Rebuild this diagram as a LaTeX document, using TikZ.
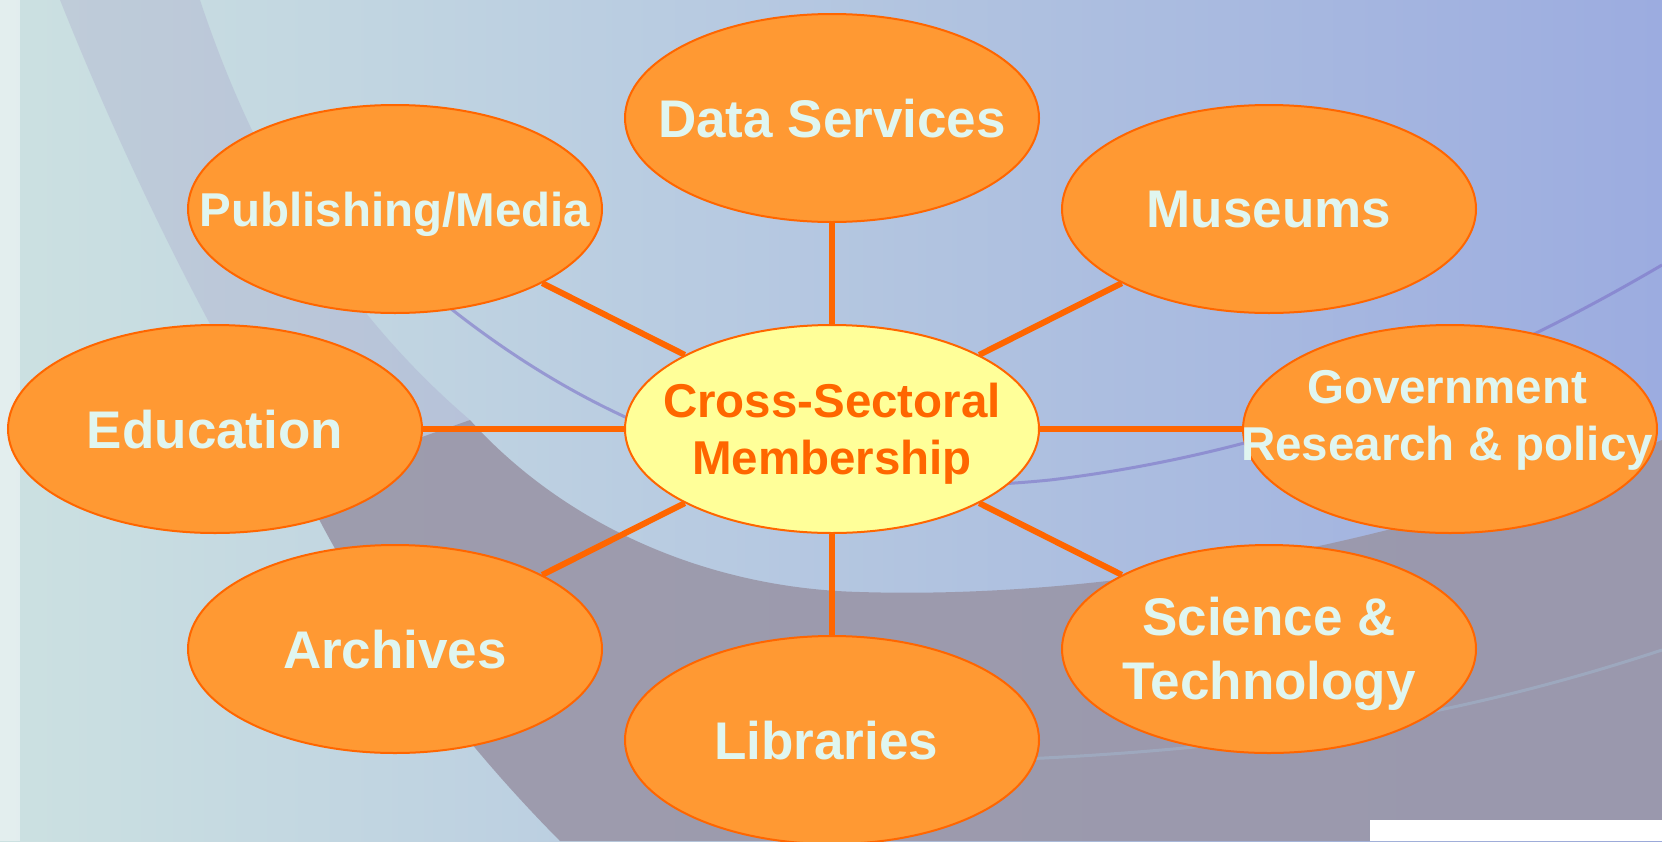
\documentclass[tikz,border=0pt]{standalone}
\usepackage{fontspec}
\setmainfont{Liberation Sans}
\usetikzlibrary{shapes.geometric}
\definecolor{bgL}{RGB}{204,225,225}
\definecolor{bgM}{RGB}{165,198,222}
\definecolor{bgR}{RGB}{156,172,224}
\definecolor{bandC}{RGB}{154,150,168}
\definecolor{streakC}{RGB}{160,150,195}
\definecolor{arcC}{RGB}{125,115,200}
\definecolor{fillOr}{RGB}{255,153,51}
\definecolor{edgeOr}{RGB}{255,102,0}
\definecolor{hubY}{RGB}{255,255,153}
\definecolor{txtC}{RGB}{224,246,240}
\pgfdeclarelayer{bg}
\pgfdeclarelayer{spokes}
\pgfsetlayers{bg,spokes,main}
\begin{document}
\begin{tikzpicture}[x=1pt,y=-1pt,
  outer/.style={ellipse, draw=edgeOr, line width=2pt, fill=fillOr,
    minimum width=414pt, minimum height=208pt, inner sep=0pt},
  hub/.style={outer, fill=hubY},
  lbl/.style={text=txtC, font=\bfseries\fontsize{53}{64}\selectfont,
    align=center, inner sep=0pt},
  lblS/.style={lbl, font=\bfseries\fontsize{47.5}{57}\selectfont},
  spoke/.style={draw=edgeOr, line width=6pt}]
\useasboundingbox (0,0) rectangle (1662,841);
\clip (0,0) rectangle (1662,841);
\begin{pgfonlayer}{bg}
  \shade[left color=bgL, middle color=bgM, right color=bgR] (0,0) rectangle (1662,841);
  % faint streak of the dial rim, top left
  \fill[streakC, opacity=0.25]
    (60,0) .. controls (120,150) and (200,320) .. (300,480)
    -- (470,420) .. controls (330,300) and (250,150) .. (200,0) -- cycle;
  % darker rim of the dial, lower part
  \fill[bandC, opacity=0.9]
    (300,480) .. controls (340,570) and (430,710) .. (560,841)
    -- (1662,841) -- (1662,440)
    .. controls (1420,540) and (1120,600) .. (860,592)
    .. controls (700,588) and (560,520) .. (470,420) -- cycle;
  \draw[arcC, opacity=0.6, line width=3pt]
    (440,300) .. controls (650,470) and (850,500) .. (1050,480)
    .. controls (1300,450) and (1500,360) .. (1662,265);
  \draw[bgM, opacity=0.35, line width=3pt]
    (1662,650) .. controls (1450,720) and (1250,750) .. (1000,760);
  \fill[white, opacity=0.45] (0,0) rectangle (20,841);
  \fill[white] (1370,820) rectangle (1662,841);
\end{pgfonlayer}

\node[hub, label={[lblS, text=edgeOr, yshift=-5pt, name=hub-t]center:Cross-Sectoral\\Membership}] (hub) at (832,429) {};
\node[outer, label={[lbl, text depth=0pt, name=data-t]center:Data Services}] (data) at (832,118) {};
\node[outer, label={[lblS, text depth=0pt, name=pub-t]center:Publishing/Media}] (pub) at (395,209) {};
\node[outer, label={[lbl, text depth=0pt, name=mus-t]center:Museums}] (mus) at (1269,209) {};
\node[outer, label={[lbl, text depth=0pt, name=edu-t]center:Education}] (edu) at (215,429) {};
\node[outer, label={[lblS, yshift=9pt, xshift=-3pt, name=gov-t]center:Government\\Research \& policy}] (gov) at (1450,429) {};
\node[outer, label={[lbl, text depth=0pt, name=arc-t]center:Archives}] (arch) at (395,649) {};
\node[outer, label={[lbl, yshift=-5pt, name=sci-t]center:Science \&\\Technology}] (sci) at (1269,649) {};
\node[outer, label={[lbl, text depth=0pt, xshift=-6pt, name=lib-t]center:Libraries}] (lib) at (832,740) {};

\begin{pgfonlayer}{spokes}
  \foreach \n in {data,pub,mus,edu,gov,arch,sci,lib}
    \draw[spoke] (hub) -- (\n);
\end{pgfonlayer}
\end{tikzpicture}
\end{document}
